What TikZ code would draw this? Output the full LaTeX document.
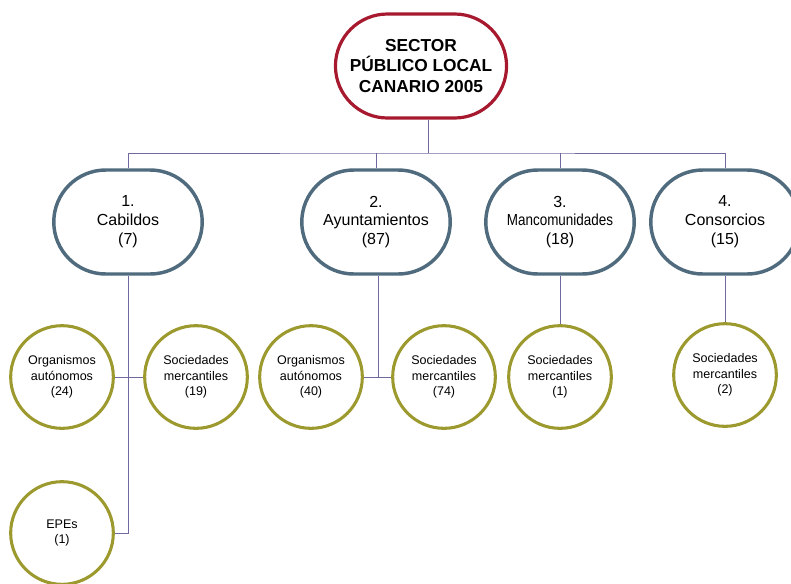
\documentclass[tikz,border=0pt]{standalone}
\usepackage{fontspec}
\setmainfont{Liberation Sans}
\usepackage{xcolor}
\usepackage{tikz}
\usetikzlibrary{calc,shapes.misc}
\usetikzlibrary{positioning}

\definecolor{sectorred}{RGB}{166,25,46}
\definecolor{slateblue}{RGB}{79,107,125}
\definecolor{olivegreen}{RGB}{156,154,46}
\definecolor{linkviolet}{RGB}{110,106,160}

\tikzset{
  sectorbox/.style={rounded rectangle, draw=sectorred, line width=2.4pt, fill=white,
    minimum width=135pt, minimum height=78pt, align=center,
    font=\fontsize{13}{15.5}\selectfont\bfseries},
  groupbox/.style={rounded rectangle, draw=slateblue, line width=2.6pt, fill=white,
    minimum width=118pt, minimum height=78pt, align=center,
    font=\fontsize{12}{14.2}\selectfont},
  entitycircle/.style={circle, draw=olivegreen, line width=2.3pt, fill=white,
    minimum size=77pt, inner sep=0pt, align=center,
    font=\fontsize{9.4}{11.8}\selectfont},
  link/.style={draw=linkviolet, line width=0.75pt}
}

\begin{document}
\begin{tikzpicture}[x=0.75pt,y=0.75pt,yscale=-1,xscale=1]
\useasboundingbox (0,0) rectangle (791,583);

% Top node
\node [sectorbox] (sector) at (421,66) {SECTOR\\PÚBLICO LOCAL\\CANARIO 2005};

% Level 1
\node [groupbox] (cab) at (128,222) {1.\\Cabildos\\(7)};
\node [groupbox] (ayu) at (376,222) {2.\\Ayuntamientos\\(87)};
\node [groupbox] (manc) at (560,222) {3.\\\scalebox{0.84}[1]{Mancomunidades}\\(18)};
\node [groupbox] (cons) at (725,222) {4.\\Consorcios\\(15)};

% Level 2
\node [entitycircle] (orgcab) at (62,377) {Organismos\\autónomos\\(24)};
\node [entitycircle] (soccab) at (196,377) {Sociedades\\mercantiles\\(19)};
\node [entitycircle] (epecab) at (62,533) {EPEs\\(1)};
\node [entitycircle] (orgayu) at (311,377) {Organismos\\autónomos\\(40)};
\node [entitycircle] (socayu) at (444,377) {Sociedades\\mercantiles\\(74)};
\node [entitycircle] (socmanc) at (560,377) {Sociedades\\mercantiles\\(1)};
\node [entitycircle] (soccons) at (725,375) {Sociedades\\mercantiles\\(2)};

% Connectors
\coordinate (bus) at (428,153);
\draw [link] (bus |- sector.south) -- (bus);
\draw [link] (cab.north) |- (bus) -| (cons.north);
\draw [link] (ayu.north) -- (ayu.north |- bus);
\draw [link] (manc.north) -- (manc.north |- bus);

\draw [link] (cab.south) -- (cab.south |- epecab.east) -- (epecab.east);
\draw [link] (orgcab.east) -- (soccab.west);
\draw [link] ($(ayu.south)+(2,0)$) -- ($(ayu.south |- orgayu.east)+(2,0)$);
\draw [link] (orgayu.east) -- (socayu.west);
\draw [link] (manc.south) -- (socmanc.north);
\draw [link] (cons.south) -- (soccons.north);

\end{tikzpicture}
\end{document}
